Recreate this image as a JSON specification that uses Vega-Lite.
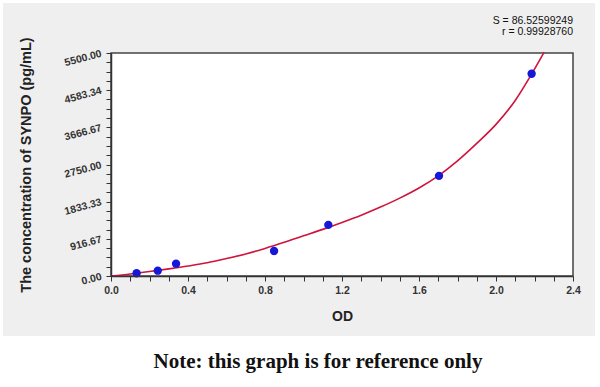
{
  "$schema": "https://vega.github.io/schema/vega-lite/v6.json",
  "width": 462,
  "height": 223,
  "autosize": {"type": "none"},
  "padding": {"left": 111, "top": 53, "right": 27, "bottom": 111},
  "background": "white",
  "config": {"view": {"stroke": null}, "font": "Liberation Sans"},
  "resolve": {"axis": {"x": "independent", "y": "independent"}},
  "datasets": {
    "curve": [
      {"OD": 0, "conc": 0}, {"OD": 0.1, "conc": 50}, {"OD": 0.2, "conc": 110}, {"OD": 0.3, "conc": 175},
      {"OD": 0.4, "conc": 245}, {"OD": 0.5, "conc": 325}, {"OD": 0.6, "conc": 430}, {"OD": 0.7, "conc": 545},
      {"OD": 0.8, "conc": 680}, {"OD": 0.9, "conc": 830}, {"OD": 1.0, "conc": 990}, {"OD": 1.1, "conc": 1150},
      {"OD": 1.2, "conc": 1320}, {"OD": 1.3, "conc": 1500}, {"OD": 1.4, "conc": 1700}, {"OD": 1.5, "conc": 1920},
      {"OD": 1.6, "conc": 2170}, {"OD": 1.7, "conc": 2470}, {"OD": 1.8, "conc": 2840}, {"OD": 1.9, "conc": 3270},
      {"OD": 2.0, "conc": 3740}, {"OD": 2.1, "conc": 4330}, {"OD": 2.2, "conc": 5100}, {"OD": 2.25, "conc": 5520}
    ],
    "std": [
      {"OD": 0.133, "conc": 67}, {"OD": 0.243, "conc": 131}, {"OD": 0.338, "conc": 304},
      {"OD": 0.847, "conc": 617}, {"OD": 1.129, "conc": 1260}, {"OD": 1.704, "conc": 2470}, {"OD": 2.185, "conc": 4989}
    ]
  },
  "layer": [
    {
      "data": {"values": [{}]},
      "mark": {"type": "rect", "fill": "#efefef", "clip": false},
      "encoding": {
        "x": {"datum": -0.561, "type": "quantitative", "scale": {"domain": [0, 2.4], "nice": false, "zero": false},
          "axis": {
            "orient": "bottom",
            "title": "OD",
            "values": [0, 0.4, 0.8, 1.2, 1.6, 2.0, 2.4],
            "format": ".1f",
            "labelFont": "Liberation Sans", "labelFontWeight": "bold", "labelFontSize": 10.5, "labelColor": "#333",
            "labelPadding": 4, "labelFlush": false, "labelOverlap": false,
            "tickColor": "#333", "tickSize": 5, "tickWidth": 1,
            "domainColor": "#333", "domainWidth": 1.5, "grid": false,
            "titleFont": "Liberation Sans", "titleFontSize": 14, "titleFontWeight": "bold", "titleColor": "#222", "titlePadding": 14,
            "zindex": 2
          }},
        "x2": {"datum": 2.514},
        "y": {"datum": 6733, "type": "quantitative", "scale": {"domain": [0, 5500], "nice": false, "zero": false},
          "axis": {
            "orient": "left",
            "title": "The concentration of SYNPO (pg/mL)",
            "values": [0, 916.67, 1833.33, 2750, 3666.67, 4583.34, 5500],
            "format": ".2f",
            "labelFont": "Liberation Sans", "labelFontWeight": "bold", "labelFontSize": 10.5, "labelColor": "#333",
            "labelAngle": -15, "labelAlign": "right", "labelBaseline": "middle", "labelPadding": 5,
            "labelFlush": false, "labelOverlap": false,
            "tickColor": "#333", "tickSize": 5, "tickWidth": 1,
            "domainColor": "#333", "domainWidth": 1.5, "grid": false,
            "titleFont": "Liberation Sans", "titleFontSize": 14.5, "titleFontWeight": "bold", "titleColor": "#222", "titlePadding": 30,
            "zindex": 2
          }},
        "y2": {"datum": -1480}
      }
    },
    {
      "data": {"values": [{}]},
      "mark": {"type": "rect", "fill": "white", "stroke": "#444", "strokeWidth": 1.5, "clip": false},
      "encoding": {
        "x": {"datum": 0, "type": "quantitative",
          "axis": {"orient": "bottom", "title": null, "labels": false, "domain": false, "grid": false,
            "values": [0.1, 0.2, 0.3, 0.5, 0.6, 0.7, 0.9, 1.0, 1.1, 1.3, 1.4, 1.5, 1.7, 1.8, 1.9, 2.1, 2.2, 2.3],
            "tickColor": "#333", "tickSize": 5, "tickWidth": 1, "zindex": 1}},
        "x2": {"datum": 2.4},
        "y": {"datum": 5500, "type": "quantitative",
          "axis": {"orient": "left", "title": null, "labels": false, "domain": false, "grid": false,
            "values": [229.17, 458.33, 687.5, 1145.83, 1375, 1604.17, 2062.5, 2291.67, 2520.83, 2979.17, 3208.33, 3437.5, 3895.83, 4125, 4354.17, 4812.5, 5041.67, 5270.83],
            "tickColor": "#333", "tickSize": 5, "tickWidth": 1, "zindex": 1}},
        "y2": {"datum": 0}
      }
    },
    {
      "data": {"name": "curve"},
      "mark": {"type": "line", "color": "#d0143c", "strokeWidth": 1.6, "interpolate": "monotone", "clip": false},
      "encoding": {
        "x": {"field": "OD", "type": "quantitative", "axis": null},
        "y": {"field": "conc", "type": "quantitative", "axis": null}
      }
    },
    {
      "data": {"name": "std"},
      "mark": {"type": "circle", "color": "#1717d9", "size": 70, "opacity": 1},
      "encoding": {
        "x": {"field": "OD", "type": "quantitative", "axis": null},
        "y": {"field": "conc", "type": "quantitative", "axis": null}
      }
    },
    {
      "data": {"values": [{}]},
      "mark": {"type": "text", "text": "S = 86.52599249", "align": "right", "baseline": "middle", "fontSize": 10.5, "font": "Liberation Sans", "color": "#111", "clip": false},
      "encoding": {"x": {"datum": 2.4, "type": "quantitative", "axis": null}, "y": {"datum": 6287, "type": "quantitative", "axis": null}}
    },
    {
      "data": {"values": [{}]},
      "mark": {"type": "text", "text": "r = 0.99928760", "align": "right", "baseline": "middle", "fontSize": 10.5, "font": "Liberation Sans", "color": "#111", "clip": false},
      "encoding": {"x": {"datum": 2.4, "type": "quantitative", "axis": null}, "y": {"datum": 6016, "type": "quantitative", "axis": null}}
    },
    {
      "data": {"values": [{}]},
      "mark": {"type": "text", "text": "Note: this graph is for reference only", "align": "center", "baseline": "middle", "fontSize": 21, "font": "Liberation Serif", "fontWeight": "bold", "color": "#111", "clip": false},
      "encoding": {"x": {"datum": 1.075, "type": "quantitative", "axis": null}, "y": {"datum": -2121, "type": "quantitative", "axis": null}}
    }
  ]
}
